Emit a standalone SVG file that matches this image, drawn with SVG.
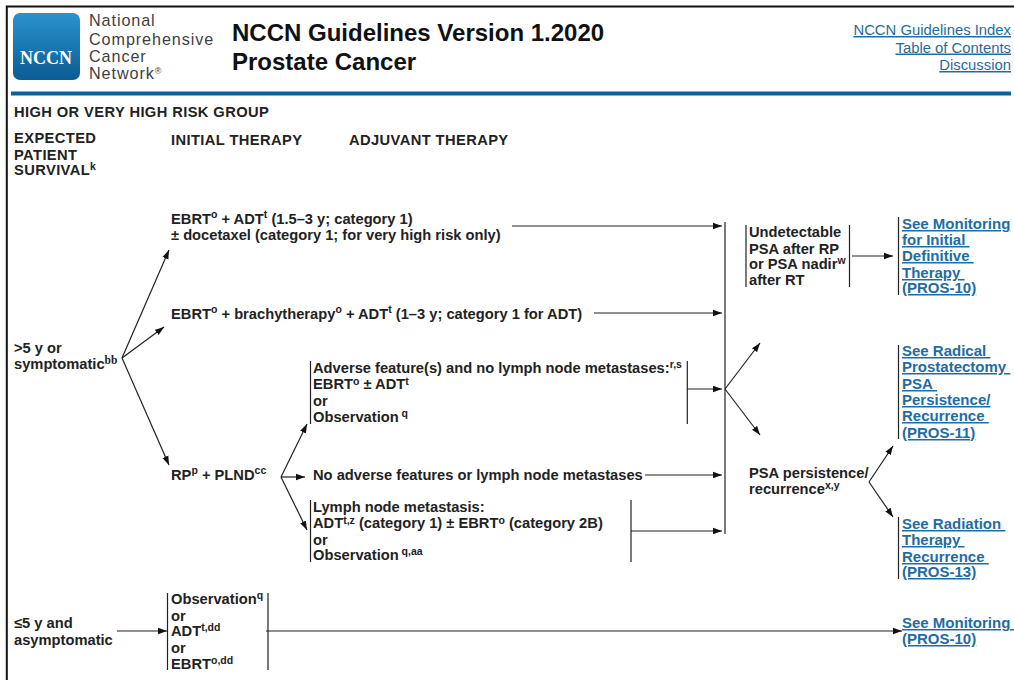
<svg xmlns="http://www.w3.org/2000/svg" width="1014" height="680" viewBox="0 0 1014 680">
<style>
text{font-family:"Liberation Sans",Arial,sans-serif}
.b{font-size:14.7px;font-weight:700;fill:#222}
.h{font-size:14.7px;font-weight:700;fill:#222;letter-spacing:.4px}
.s{font-size:10.5px;font-weight:700}
.org{font-size:16.2px;fill:#3f3f3f;letter-spacing:.9px}
.title{font-size:24px;font-weight:700;fill:#111}
.idx{font-size:14.85px;fill:#1f6ca3;text-anchor:end;text-decoration:underline}
.lnk{font-size:15px;font-weight:700;fill:#1f6ca3;text-decoration:underline}
.bar{stroke:#222;stroke-width:1.2;fill:none}
.c{stroke:#222;stroke-width:1.2;fill:none;marker-end:url(#a)}
</style>
<defs>
<marker id="a" markerUnits="userSpaceOnUse" markerWidth="10" markerHeight="8" refX="9" refY="4" orient="auto"><path d="M0,.8L9,4L0,7.2Z" fill="#111"/></marker>
<linearGradient id="lg" x1="0" y1="0" x2="0" y2="1"><stop offset="0" stop-color="#2a93cf"/><stop offset="1" stop-color="#0b5c93"/></linearGradient>
</defs>
<rect width="1014" height="680" fill="#fff"/>
<g id="frame"><path d="M1014,6.5H6.800V680" fill="none" stroke="#111" stroke-width="2"/><rect x="11" y="91.500" width="1000" height="4" fill="#0c6199"/></g>
<g id="header">
<rect x="13" y="13" width="67" height="67" rx="7" fill="url(#lg)"/>
<text x="20" y="64" style='font-family:"Liberation Serif",serif;font-size:18px;font-weight:700' fill="#fff">NCCN</text>
<text class="org" x="89" y="26">National</text>
<text class="org" x="89" y="44.500">Comprehensive</text>
<text class="org" x="89" y="62">Cancer</text>
<text class="org" x="89" y="79">Network<tspan font-size="9" dy="-5">®</tspan></text>
<text class="title" x="232" y="41">NCCN Guidelines Version 1.2020</text>
<text class="title" x="232" y="70">Prostate Cancer</text>
<text class="idx" x="1011" y="35">NCCN Guidelines Index</text>
<text class="idx" x="1011" y="52.500">Table of Contents</text>
<text class="idx" x="1011" y="70">Discussion</text>
<text class="h" x="14" y="117">HIGH OR VERY HIGH RISK GROUP</text>
<text class="h" x="14" y="143">EXPECTED</text>
<text class="h" x="14" y="159.500">PATIENT</text>
<text class="h" x="14" y="175">SURVIVAL<tspan class="s" dy="-5">k</tspan></text>
<text class="h" x="171" y="145">INITIAL THERAPY</text>
<text class="h" x="349" y="145">ADJUVANT THERAPY</text>
</g>
<g id="connectors">
<path class="c" d="M122,358L169,250"/>
<path class="c" d="M122,358L164,327"/>
<path class="c" d="M122,358L169,465"/>
<path class="c" d="M281,477L307,424"/>
<path class="c" d="M281,477H305"/>
<path class="c" d="M281,477L307,530"/>
<path class="c" d="M512,226H722"/>
<path class="c" d="M594,313H722"/>
<path class="c" d="M687,389H722"/>
<path class="c" d="M645,475H722"/>
<path class="c" d="M631,531H722"/>
<path class="bar" d="M725,222V534"/>
<path class="c" d="M725,389L760,343"/>
<path class="c" d="M725,389L760,435"/>
<path class="c" d="M852,256H893"/>
<path class="c" d="M869,482L893,446"/>
<path class="c" d="M869,482L893,517"/>
<path class="c" d="M117,631H167"/>
<path class="c" d="M266,631H902"/>
</g>
<g id="n-over5"><text class="b" x="14" y="353">&gt;5 y or</text><text class="b" x="14" y="369">symptomatic<tspan class="s" dy="-5" style='font-family:"Liberation Serif",serif;font-size:11.500px'>bb</tspan></text></g>
<g id="n-under5"><text class="b" x="14" y="628">≤5 y and</text><text class="b" x="14" y="645">asymptomatic</text></g>
<g id="n-ebrt-adt"><text class="b" x="171" y="224">EBRT<tspan class="s" dy="-6">o</tspan><tspan dy="6"> + ADT</tspan><tspan class="s" dy="-6">t</tspan><tspan dy="6"> (1.5–3 y; category 1)</tspan></text><text class="b" x="171" y="240">± docetaxel (category 1; for very high risk only)</text></g>
<g id="n-ebrt-brachy"><text class="b" x="171" y="319">EBRT<tspan class="s" dy="-6">o</tspan><tspan dy="6"> + brachytherapy</tspan><tspan class="s" dy="-6">o</tspan><tspan dy="6"> + ADT</tspan><tspan class="s" dy="-6">t</tspan><tspan dy="6"> (1–3 y; category 1 for ADT)</tspan></text></g>
<g id="n-rp"><text class="b" x="171" y="480">RP<tspan class="s" dy="-6">p</tspan><tspan dy="6"> + PLND</tspan><tspan class="s" dy="-6">cc</tspan></text></g>
<g id="n-adverse"><path class="bar" d="M310.500,361V424M687.300,361V424"/>
<text class="b" x="313" y="373">Adverse feature(s) and no lymph node metastases:<tspan class="s" dy="-5">r,s</tspan></text>
<text class="b" x="313" y="389">EBRT<tspan class="s" dy="-4">o</tspan><tspan dy="4"> ± ADT</tspan><tspan class="s" dy="-4">t</tspan></text>
<text class="b" x="313" y="406">or</text>
<text class="b" x="313" y="422">Observation<tspan class="s" dy="-5"> q</tspan></text></g>
<g id="n-noadverse"><text class="b" x="313" y="480">No adverse features or lymph node metastases</text></g>
<g id="n-lymph"><path class="bar" d="M310.500,500V562M631,500V562"/>
<text class="b" x="313" y="512">Lymph node metastasis:</text>
<text class="b" x="313" y="528">ADT<tspan class="s" dy="-4">t,z</tspan><tspan dy="4"> (category 1) ± EBRT</tspan><tspan class="s" dy="-4">o</tspan><tspan dy="4"> (category 2B)</tspan></text>
<text class="b" x="313" y="545">or</text>
<text class="b" x="313" y="560">Observation<tspan class="s" dy="-5"> q,aa</tspan></text></g>
<g id="n-obs"><path class="bar" d="M167.500,593V670M268,593V670"/>
<text class="b" x="171" y="604">Observation<tspan class="s" dy="-5">q</tspan></text>
<text class="b" x="171" y="621">or</text>
<text class="b" x="171" y="636">ADT<tspan class="s" dy="-5">t,dd</tspan></text>
<text class="b" x="171" y="653">or</text>
<text class="b" x="171" y="669">EBRT<tspan class="s" dy="-5">o,dd</tspan></text></g>
<g id="n-undetectable"><path class="bar" d="M746,225V287M849.500,225V287"/>
<text class="b" x="749" y="237">Undetectable</text>
<text class="b" x="749" y="253.500">PSA after RP</text>
<text class="b" x="749" y="269">or PSA nadir<tspan class="s" dy="-5">w</tspan></text>
<text class="b" x="749" y="285">after RT</text></g>
<g id="n-persist"><text class="b" x="749" y="478">PSA persistence/</text><text class="b" x="749" y="494">recurrence<tspan class="s" dy="-5">x,y</tspan></text></g>
<g id="n-see-mon1"><path class="bar" d="M898.500,217V295"/>
<text class="lnk" x="902" y="229">See Monitoring</text>
<text class="lnk" x="902" y="245">for Initial&#160;</text>
<text class="lnk" x="902" y="261">Definitive&#160;</text>
<text class="lnk" x="902" y="278">Therapy&#160;</text>
<text class="lnk" x="902" y="293">(PROS-10)</text></g>
<g id="n-see-rad"><path class="bar" d="M898.500,345V439"/>
<text class="lnk" x="902" y="356">See Radical&#160;</text>
<text class="lnk" x="902" y="372">Prostatectomy&#160;</text>
<text class="lnk" x="902" y="389">PSA&#160;</text>
<text class="lnk" x="902" y="405">Persistence/</text>
<text class="lnk" x="902" y="421">Recurrence&#160;</text>
<text class="lnk" x="902" y="438">(PROS-11)</text></g>
<g id="n-see-rt"><path class="bar" d="M898.500,517V579"/>
<text class="lnk" x="902" y="529">See Radiation&#160;</text>
<text class="lnk" x="902" y="545">Therapy&#160;</text>
<text class="lnk" x="902" y="562">Recurrence&#160;</text>
<text class="lnk" x="902" y="577">(PROS-13)</text></g>
<g id="n-see-mon2">
<text class="lnk" x="902" y="628">See Monitoring&#160;</text>
<text class="lnk" x="902" y="644">(PROS-10)</text></g>
</svg>
